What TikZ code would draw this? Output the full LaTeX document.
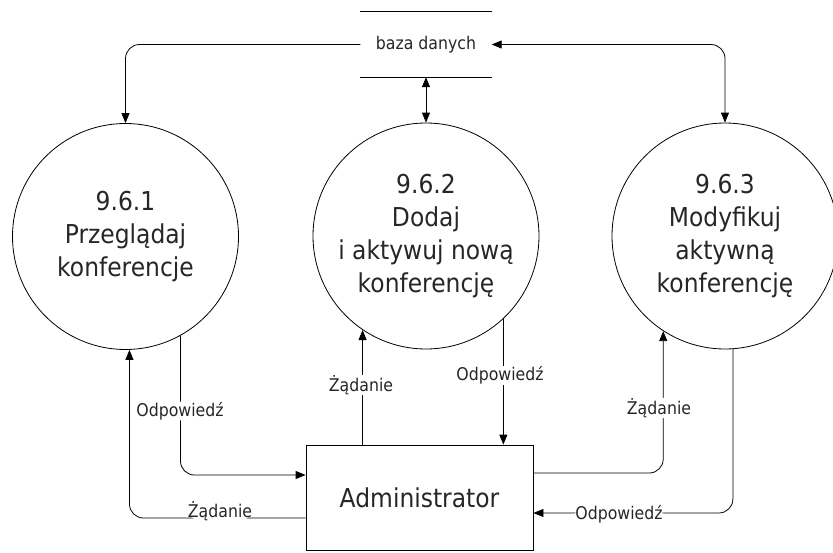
\documentclass[tikz,border=0pt]{standalone}
\usepackage{fontspec}
\setmainfont{DejaVu Sans}[FakeStretch=0.9]
\usetikzlibrary{arrows.meta}
\begin{document}
\begin{tikzpicture}[x=1pt,y=-1pt,
  line/.style={draw=black,line width=0.8pt},
  arr/.style={line,-{Triangle[length=10pt,width=8pt]}},
  darr/.style={line,{Triangle[length=10pt,width=8pt]}-{Triangle[length=10pt,width=8pt]}},
  proc/.style={circle,draw=black,line width=0.8pt,minimum size=226pt,inner sep=0pt,align=center,
    font=\fontsize{26}{33}\selectfont,text=black!85},
  ent/.style={rectangle,sharp corners,draw=black,line width=0.8pt,minimum width=227pt,minimum height=105pt,inner sep=0pt,
    font=\fontsize{26}{33}\selectfont,text=black!85},
  store/.style={rectangle,minimum width=131pt,minimum height=65pt,inner sep=0pt,
    font=\fontsize{17.5}{20}\selectfont,text=black!85},
  lbl/.style={fill=white,inner sep=0.5pt,font=\fontsize{17.5}{20}\selectfont,text=black!85},
  rounded corners=14pt]
\useasboundingbox (0,0) rectangle (833,552);

\node[store] (db) at (426,44.5) {baza danych};
\draw[line,sharp corners] (db.north west) -- (db.north east);
\draw[line,sharp corners] (db.south west) -- (db.south east);

\node[proc] (c1) at (125.5,236.5) {9.6.1\\Przeglądaj\\konferencje};
\node[proc] (c2) at (426,236) {9.6.2\\Dodaj\\i aktywuj nową\\konferencję};
\node[proc] (c3) at (725,236) {9.6.3\\Modyfikuj\\aktywną\\konferencję};

\node[ent] (adm) at (419.5,497.5) {Administrator};

% data store connections
\draw[arr] (db.west) -| (c1.north);
\draw[darr] (db.east) -| (c3.north);
\draw[darr,sharp corners] (db.south) -- (c2.north);

% process 9.6.1
\draw[arr] (c1.-61.9) |- ([yshift=22.5pt]adm.west);
\draw[arr] ([yshift=-20.5pt]adm.west) -| (c1.-88.7);

% process 9.6.2
\draw[arr,sharp corners] (c2.-124.5 |- adm.north) -- (c2.-124.5);
\draw[arr,sharp corners] (c2.-47.7) -- (c2.-47.7 |- adm.north);

% process 9.6.3
\draw[arr] ([yshift=24.5pt]adm.east) -| (c3.-123.6);
\draw[arr] (c3.-86.9) |- ([yshift=-15.5pt]adm.east);

% labels
\node[lbl] (l1) at (180,411) {Odpowiedź};
\node[lbl] (l2) at (220,511) {Żądanie};
\node[lbl] (l3) at (361,385) {Żądanie};
\node[lbl] (l4) at (500,375.5) {Odpowiedź};
\node[lbl] (l5) at (659,408) {Żądanie};
\node[lbl] (l6) at (619,514) {Odpowiedź};
\end{tikzpicture}
\end{document}
